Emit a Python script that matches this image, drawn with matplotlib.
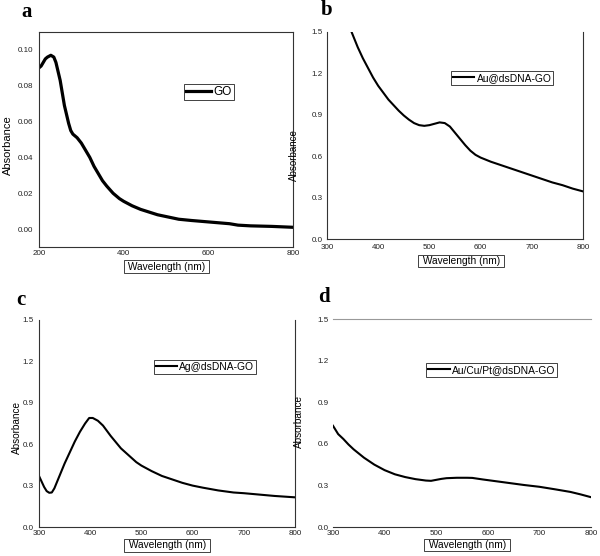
import matplotlib
matplotlib.use('Agg')
import matplotlib.pyplot as plt
import numpy as np

plt.rcParams['font.family'] = ['Liberation Sans', 'DejaVu Sans']

W, H = 600, 556

# panel a: GO
go_wl = [200, 205, 210, 215, 220, 228, 235, 240, 245, 250, 255, 260, 265, 270, 275, 280,
         290, 300, 310, 320, 330, 340, 350, 360, 375, 390, 400, 420, 440, 460, 480, 500,
         530, 560, 600, 650, 670, 700, 750, 800]
go_abs = [0.090, 0.091, 0.093, 0.095, 0.096, 0.097, 0.096, 0.093, 0.088, 0.083, 0.076, 0.069,
          0.064, 0.059, 0.055, 0.053, 0.051, 0.048, 0.044, 0.040, 0.035, 0.031, 0.027, 0.024,
          0.020, 0.017, 0.0155, 0.013, 0.011, 0.0095, 0.008, 0.007, 0.0055, 0.0048, 0.004,
          0.003, 0.0022, 0.0018, 0.0015, 0.001]

# panel b: Au@dsDNA-GO
au_wl = [348, 360, 370, 380, 390, 400, 410, 420, 430, 440, 450, 460, 470, 480, 490, 500,
         510, 520, 530, 540, 550, 560, 570, 580, 590, 600, 620, 640, 660, 680, 700, 720,
         740, 760, 780, 800]
au_abs = [1.50, 1.39, 1.31, 1.24, 1.17, 1.11, 1.06, 1.01, 0.97, 0.93, 0.895, 0.865, 0.84,
          0.825, 0.82, 0.825, 0.835, 0.845, 0.84, 0.815, 0.77, 0.725, 0.68, 0.64, 0.61, 0.59,
          0.56, 0.535, 0.51, 0.485, 0.46, 0.435, 0.41, 0.39, 0.365, 0.345]

# panel c: Ag@dsDNA-GO
ag_wl = [300, 305, 310, 315, 320, 325, 330, 340, 350, 360, 370, 380, 390, 398, 405, 415,
         425, 440, 450, 460, 475, 490, 500, 520, 540, 560, 580, 600, 620, 650, 680, 700,
         730, 760, 800]
ag_abs = [0.37, 0.33, 0.29, 0.26, 0.248, 0.25, 0.28, 0.37, 0.46, 0.54, 0.62, 0.69, 0.75,
          0.79, 0.79, 0.77, 0.735, 0.66, 0.615, 0.57, 0.52, 0.47, 0.445, 0.405, 0.37, 0.345,
          0.32, 0.30, 0.285, 0.265, 0.25, 0.245, 0.235, 0.225, 0.215]

# panel d: Au/Cu/Pt@dsDNA-GO
tri_wl = [300, 305, 310, 320, 330, 340, 350, 360, 380, 400, 420, 440, 460, 480, 490, 500,
          510, 520, 540, 560, 570, 590, 610, 640, 670, 700, 730, 760, 780, 800]
tri_abs = [0.73, 0.70, 0.67, 0.635, 0.595, 0.56, 0.53, 0.50, 0.45, 0.41, 0.38, 0.36, 0.345,
           0.335, 0.333, 0.34, 0.347, 0.352, 0.355, 0.355, 0.354, 0.343, 0.333, 0.318, 0.303,
           0.29, 0.272, 0.253, 0.235, 0.215]

abs_ticks = [0.0, 0.3, 0.6, 0.9, 1.2, 1.5]
spine_col = '#333333'


def px_axes(fig, l, t, r, b):
    return fig.add_axes([l / W, 1 - b / H, (r - l) / W, (b - t) / H])


def fig_text(fig, x, y, s, **kw):
    return fig.text(x / W, 1 - y / H, s, **kw)


fig = plt.figure(figsize=(6.0, 5.56), dpi=100)

panels = [
    dict(box=(39, 32, 293, 247), wl=go_wl, ab=go_abs, label='GO', lw=2.3,
         xlim=(200, 800), xt=[200, 400, 600, 800], ylim=(-0.01, 0.11),
         yt=[0.0, 0.02, 0.04, 0.06, 0.08, 0.10], yfmt='%.2f', leg=(0.669, 0.721), legfs=8.5,
         spines=dict(top=spine_col, left=spine_col, right=spine_col, bottom=spine_col),
         xpad=2.5, ypad=4.0,
         letter=('a', 27, 12), ylab=(8, 145), ylfs=8, xlab=(166.5, 266.5)),
    dict(box=(327, 32, 583, 239), wl=au_wl, ab=au_abs, label='Au@dsDNA-GO', lw=1.5,
         xlim=(300, 800), xt=[300, 400, 500, 600, 700, 800], ylim=(0, 1.5),
         yt=abs_ticks, yfmt='%.1f', leg=(0.684, 0.778), legfs=7.4,
         spines=dict(left=spine_col, right=spine_col, bottom=spine_col),
         xpad=3.6, ypad=3.0,
         letter=('b', 327, 10), ylab=(294, 155), ylfs=7, xlab=(461, 261)),
    dict(box=(39, 320, 295, 527), wl=ag_wl, ab=ag_abs, label='Ag@dsDNA-GO', lw=1.5,
         xlim=(300, 800), xt=[300, 400, 500, 600, 700, 800], ylim=(0, 1.5),
         yt=abs_ticks, yfmt='%.1f', leg=(0.648, 0.773), legfs=7.4,
         spines=dict(left=spine_col, right=spine_col, bottom=spine_col),
         xpad=2.5, ypad=4.0,
         letter=('c', 21, 300), ylab=(17, 427), ylfs=7.2, xlab=(167, 545.5)),
    dict(box=(333, 319, 591, 527), wl=tri_wl, ab=tri_abs, label='Au/Cu/Pt@dsDNA-GO', lw=1.5,
         xlim=(300, 800), xt=[300, 400, 500, 600, 700, 800], ylim=(0, 1.5),
         yt=abs_ticks, yfmt='%.1f', leg=(0.616, 0.755), legfs=7.4,
         spines=dict(top='#999999', bottom=spine_col),
         xpad=2.5, ypad=3.0,
         letter=('d', 324, 297), ylab=(299, 422), ylfs=7.2, xlab=(467, 545)),
]

for p in panels:
    ax = px_axes(fig, *p['box'])
    ax.plot(p['wl'], p['ab'], color='black', lw=p['lw'], label=p['label'])
    ax.set_xlim(*p['xlim'])
    ax.set_ylim(*p['ylim'])
    ax.set_xticks(p['xt'])
    ax.set_yticks(p['yt'])
    ax.set_yticklabels([p['yfmt'] % v for v in p['yt']])
    ax.tick_params(length=0, labelsize=5.8, colors='#222222')
    ax.tick_params(axis='x', pad=p['xpad'])
    ax.tick_params(axis='y', pad=p['ypad'])
    for side in ['top', 'bottom', 'left', 'right']:
        if side in p['spines']:
            ax.spines[side].set_color(p['spines'][side])
            ax.spines[side].set_linewidth(0.8)
        else:
            ax.spines[side].set_visible(False)
    leg = ax.legend(loc='center', bbox_to_anchor=p['leg'], fontsize=p['legfs'],
                    fancybox=False, edgecolor='#222222', framealpha=1, handlelength=2.1,
                    handletextpad=0.2, borderpad=0.2, borderaxespad=0)
    leg.get_frame().set_linewidth(0.6)
    let, lx, ly = p['letter']
    fig_text(fig, lx, ly, let, family=['Liberation Serif'], fontweight='bold',
             fontsize=15, ha='center', va='center')
    fig_text(fig, p['ylab'][0], p['ylab'][1], 'Absorbance', rotation=90,
             ha='center', va='center', fontsize=p['ylfs'])
    fig_text(fig, p['xlab'][0], p['xlab'][1], ' Wavelength (nm) ', ha='center', va='center',
             fontsize=7.3, zorder=5,
             bbox=dict(boxstyle='square,pad=0.12', fc='white', ec='#222222', lw=0.6))

fig.savefig('out.png', dpi=100)
